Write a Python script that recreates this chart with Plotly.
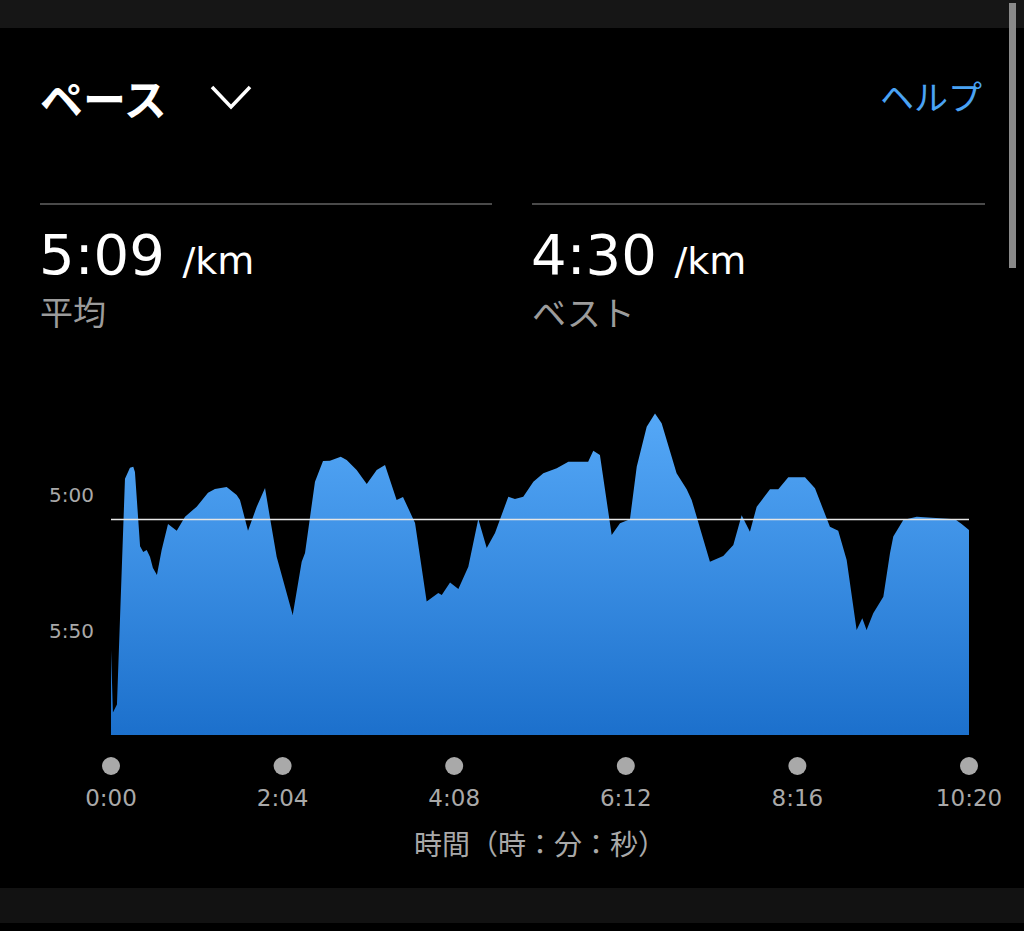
import plotly.graph_objects as go

# ---- data ----
time_s = [0, 1.4, 4.3, 10.1, 13.7, 16.1, 17.3, 21.0, 23.3, 25.8, 28.2, 30.3, 33.2, 36.6, 41.2,
          47.5, 53.5, 61.9, 70.1, 75.1, 83.6, 90.8, 93.2, 99.0, 105.3, 111.3, 114.9, 119.7, 131.3,
          137.8, 140.2, 147.4, 153.2, 158.2, 166.0, 170.3, 177.5, 184.8, 192.0, 198.0, 206.4, 211.0,
          219.7, 228.1, 236.5, 239.0, 245.0, 251.0, 258.2, 265.4, 271.5, 277.5, 287.1, 291.9, 297.9,
          305.2, 312.4, 322.1, 330.5, 344.8, 348.5, 353.3, 361.8, 367.8, 375.0, 379.9, 387.1, 393.1,
          397.9, 403.9, 408.7, 416.0, 419.6, 432.8, 442.4, 449.7, 455.7, 461.7, 466.6, 476.2, 482.2,
          489.4, 501.5, 508.7, 519.5, 525.5, 531.6, 538.8, 542.9, 546.0, 550.8, 558.1, 562.9, 565.3,
          572.5, 582.2, 589.4, 609.9, 614.7, 620]
pace_s = [357, 380, 377, 294, 290, 289.6, 291.5, 318.8, 321, 320.2, 322.8, 326.8, 329.4, 320.2, 310.7,
          313.1, 308, 304.3, 299.2, 297.8, 297.1, 300, 301.8, 313.1, 304.3, 297.4, 308.5, 322.7, 344.1,
          324.5, 321.3, 295.1, 287.5, 287.4, 285.9, 287.1, 290.8, 296, 290.8, 289, 301.8, 300.7,
          310.3, 339.2, 336, 336.8, 332.2, 334.6, 326.4, 308.8, 319.5, 314, 300.6, 301.5, 300.6,
          295.1, 292, 290.2, 287.8, 287.8, 283.7, 285.3, 314.7, 310.4, 308.9, 289.6, 274.9, 270,
          273.6, 283.5, 292, 297.9, 301.8, 324.5, 322.4, 318.4, 307.4, 313.5, 304.3, 297.9, 297.9,
          293.5, 293.5, 297.5, 311.7, 313.1, 323.9, 349.6, 345.3, 349.6, 343.5, 337.4, 321.4, 315.3,
          309.2, 308, 308.2, 308.9, 310.7, 312.9]
avg_pace = 309          # 5:09 /km
best_pace = 270         # 4:30 /km
x_tickvals = [0, 124, 248, 372, 496, 620]
x_ticktext = ["0:00", "2:04", "4:08", "6:12", "8:16", "10:20"]
y_tickvals = [300, 350]
y_ticktext = ["5:00", "5:50"]
title_text = "ペース"
help_text = "ヘルプ"
avg_label = "平均"
best_label = "ベスト"
x_title = "時間（時：分：秒）"

W, H = 1024, 931
def px(x):
    return x / W
def py(y):
    return 1 - y / H

def fmt(sec):
    return f"{int(sec)//60}:{int(sec)%60:02d}"

# axis range (pixel 735 bottom -> 380 top, 2.72 px per second)
y_bottom = 300 + (735 - 495) / 2.72
y_top = 300 - (495 - 380) / 2.72

FONT = "DejaVu Sans, Noto Sans CJK JP, sans-serif"
JP = "Noto Sans CJK JP, sans-serif"

fig = go.Figure()
fig.add_trace(go.Scatter(
    x=time_s + [time_s[-1], time_s[0]],
    y=pace_s + [y_bottom, y_bottom],
    fill="toself",
    mode="lines",
    line=dict(width=0, color="rgba(0,0,0,0)"),
    fillgradient=dict(type="vertical",
                      colorscale=[[0, "#1c70cc"], [1, "#55a8f7"]],
                      start=y_bottom, stop=best_pace),
    hoverinfo="skip", showlegend=False,
))
# average line
fig.add_trace(go.Scatter(
    x=[time_s[0], time_s[-1]], y=[avg_pace, avg_pace], mode="lines",
    line=dict(color="#e6e6e6", width=1.6), hoverinfo="skip", showlegend=False,
))
# tick dots (on a thin helper axis row beneath the chart)
fig.add_trace(go.Scatter(
    x=x_tickvals, y=[0.5] * len(x_tickvals), mode="markers", yaxis="y2",
    marker=dict(size=18, color="#a9a9a9"), cliponaxis=False,
    hoverinfo="skip", showlegend=False,
))

fig.update_layout(
    width=W, height=H, margin=dict(l=0, r=0, t=0, b=0, autoexpand=False),
    paper_bgcolor="#000000", plot_bgcolor="#000000",
    showlegend=False,
    xaxis=dict(domain=[px(111), px(969)], range=[time_s[0], time_s[-1]], automargin=False,
               showgrid=False, zeroline=False, showline=False, ticks="",
               tickvals=x_tickvals, ticktext=x_ticktext,
               tickfont=dict(family=FONT, size=23, color="#a9a9a9"),
               ticklabelstandoff=47,
               title=dict(text=x_title, font=dict(family=JP, size=28, color="#a9a9a9"),
                          standoff=25)),
    yaxis=dict(domain=[py(735), py(380)], range=[y_bottom, y_top], automargin=False,
               showgrid=False, zeroline=False, showline=False, ticks="",
               tickvals=y_tickvals, ticktext=y_ticktext,
               tickfont=dict(family=FONT, size=20, color="#a9a9a9"),
               ticklabelstandoff=16),
    yaxis2=dict(domain=[py(786), py(746)], range=[0, 1], anchor="x", visible=False,
                automargin=False, showgrid=False, zeroline=False),
)

shapes = [
    dict(type="rect", xref="paper", yref="paper", x0=0, x1=1, y0=py(28), y1=1,
         fillcolor="#161616", line=dict(width=0), layer="below"),
    dict(type="rect", xref="paper", yref="paper", x0=0, x1=1, y0=py(923), y1=py(888),
         fillcolor="#121212", line=dict(width=0), layer="below"),
    dict(type="line", xref="paper", yref="paper", x0=px(40), x1=px(492), y0=py(204), y1=py(204),
         line=dict(color="#4a4a4a", width=2)),
    dict(type="line", xref="paper", yref="paper", x0=px(532), x1=px(985), y0=py(204), y1=py(204),
         line=dict(color="#4a4a4a", width=2)),
    dict(type="path", xref="paper", yref="paper",
         path=f"M {px(212)},{py(87)} L {px(231)},{py(107)} L {px(250)},{py(87)}",
         line=dict(color="#ffffff", width=3.5)),
    dict(type="rect", xref="paper", yref="paper", x0=px(1009), x1=px(1016), y0=py(268), y1=py(3),
         fillcolor="#8a8a8a", line=dict(width=0)),
]
fig.update_layout(shapes=shapes)

ann = [
    dict(text=f"<b>{title_text}</b>", x=px(38), y=py(97), xanchor="left", yanchor="middle",
         font=dict(family=JP, size=43, color="#ffffff")),
    dict(text=help_text, x=px(984), y=py(96), xanchor="right", yanchor="middle",
         font=dict(family=JP, size=34, color="#4aa3f4")),
    dict(text=f"{fmt(avg_pace)} <span style='font-size:38px'>/km</span>", x=px(37), y=py(254),
         xanchor="left", yanchor="middle", font=dict(family=FONT, size=56, color="#ffffff")),
    dict(text=avg_label, x=px(38), y=py(311), xanchor="left", yanchor="middle",
         font=dict(family=JP, size=33, color="#9c9c9c")),
    dict(text=f"{fmt(best_pace)} <span style='font-size:38px'>/km</span>", x=px(529), y=py(254),
         xanchor="left", yanchor="middle", font=dict(family=FONT, size=56, color="#ffffff")),
    dict(text=best_label, x=px(530), y=py(311), xanchor="left", yanchor="middle",
         font=dict(family=JP, size=34, color="#9c9c9c")),
]
for a in ann:
    a.update(xref="paper", yref="paper", showarrow=False)
fig.update_layout(annotations=ann)

fig.write_html("out.html", config={"displayModeBar": False},
               post_script="document.body.style.margin='0';document.body.style.overflow='hidden';")
